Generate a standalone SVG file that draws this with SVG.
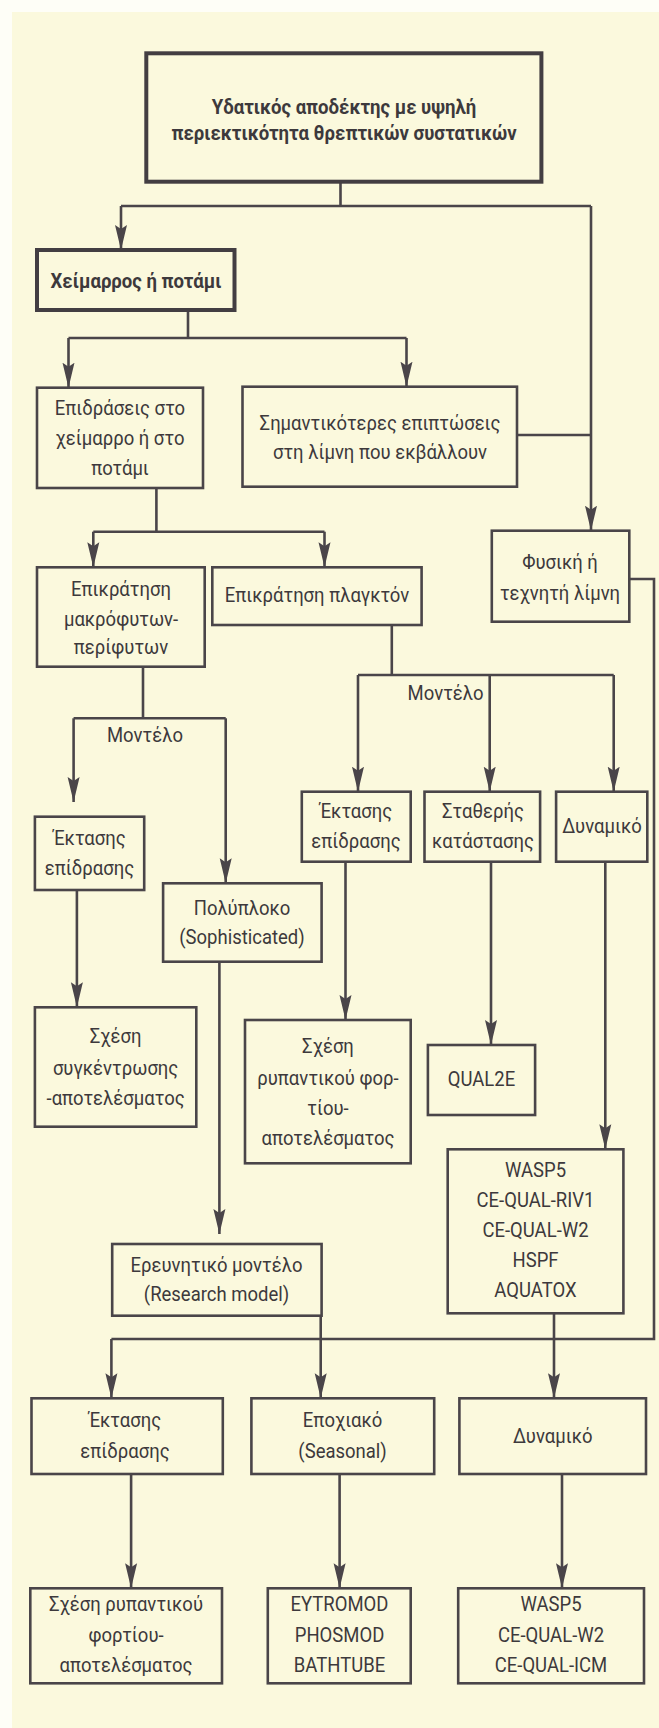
<svg xmlns="http://www.w3.org/2000/svg" width="659" height="1728" viewBox="0 0 659 1728">
  <style>
    .bx { fill: none; stroke: #4a4549; stroke-width: 2.6; }
    .bx-strong { fill: none; stroke: #433e42; stroke-width: 4; }
    .ln { fill: none; stroke: #4a4549; stroke-width: 2.6; }
    .arr { marker-end: url(#ah); }
    text { font-family: Roboto, "Liberation Sans", sans-serif; font-size: 20px; fill: #3d393c; text-anchor: middle;
           transform-box: fill-box; transform-origin: center; transform: scaleX(0.925); }
    text.b { font-weight: bold; font-size: 21px; transform: scaleX(0.885); }
  </style>
  <defs>
    <marker id="ah" markerUnits="userSpaceOnUse" markerWidth="26" markerHeight="14" viewBox="0 0 26 14" refX="25" refY="7" orient="auto">
      <path d="M0,1 L25,7 L0,13 L4,7 z" fill="#4a4549"/>
    </marker>
  </defs>

  <!-- page -->
  <rect x="0" y="0" width="659" height="1728" fill="#fefef7"/>
  <rect x="12" y="12" width="647" height="1716" fill="#fbf9dd"/>

  <!-- connectors -->
  <g id="connectors">
    <path class="ln" d="M340.5,181.7 V206 M121,206 H591"/>
    <path class="ln arr" d="M121,206 V250"/>
    <path class="ln arr" d="M591,206 V530.7"/>
    <path class="ln" d="M517,435 H591"/>
    <path class="ln" d="M188,310 V338 M68.5,338 H406.5"/>
    <path class="ln arr" d="M68.5,338 V387.7"/>
    <path class="ln arr" d="M406.5,338 V386.7"/>
    <path class="ln" d="M156.4,488 V531.7 M93.3,531.7 H324.5"/>
    <path class="ln arr" d="M93.3,531.7 V567.3"/>
    <path class="ln arr" d="M324.5,531.7 V567.3"/>
    <path class="ln" d="M143,666.7 V718.3 M73.6,718.3 H225.7"/>
    <path class="ln arr" d="M73.6,718.3 V802"/>
    <path class="ln arr" d="M225.7,718.3 V883.3"/>
    <path class="ln" d="M391.8,625 V675 M358,675 H613.7"/>
    <path class="ln arr" d="M358,675 V791.7"/>
    <path class="ln arr" d="M489.7,675 V791.7"/>
    <path class="ln arr" d="M613.7,675 V791.7"/>
    <path class="ln arr" d="M76.9,890 V1007.3"/>
    <path class="ln arr" d="M219.4,961.7 V1234"/>
    <path class="ln arr" d="M345.5,861.7 V1020"/>
    <path class="ln arr" d="M491,861.7 V1045"/>
    <path class="ln arr" d="M605.3,861.7 V1149.3"/>
    <path class="ln" d="M629.3,579 H654 V1339 H111.4"/>
    <path class="ln arr" d="M111.4,1339 V1398.3"/>
    <path class="ln arr" d="M320.7,1315.7 V1398.3"/>
    <path class="ln arr" d="M554,1313.3 V1398.3"/>
    <path class="ln arr" d="M131.1,1474 V1588.3"/>
    <path class="ln arr" d="M339.6,1474 V1588.3"/>
    <path class="ln arr" d="M562,1474 V1588.3"/>
  </g>

  <!-- edge labels -->
  <g id="labels">
    <text x="145" y="742">Μοντέλο</text>
    <text x="445.6" y="700">Μοντέλο</text>
  </g>

  <g id="n-receiver">
    <rect class="bx-strong" x="146.3" y="53.3" width="395.1" height="128.4"/>
    <text class="b" x="344" y="114">Υδατικός αποδέκτης με υψηλή</text>
    <text class="b" x="344" y="140">περιεκτικότητα θρεπτικών συστατικών</text>
  </g>
  <g id="n-river">
    <rect class="bx-strong" x="37" y="250" width="197.5" height="60"/>
    <text class="b" x="136" y="288">Χείμαρρος ή ποτάμι</text>
  </g>
  <g id="n-effects">
    <rect class="bx" x="37" y="387.7" width="166" height="100.3"/>
    <text x="120" y="415">Επιδράσεις στο</text>
    <text x="120" y="445">χείμαρρο ή στο</text>
    <text x="120" y="475">ποτάμι</text>
  </g>
  <g id="n-lake-impacts">
    <rect class="bx" x="242.5" y="386.7" width="274.5" height="100"/>
    <text x="380" y="430">Σημαντικότερες επιπτώσεις</text>
    <text x="380" y="459">στη λίμνη που εκβάλλουν</text>
  </g>
  <g id="n-lake">
    <rect class="bx" x="491.8" y="530.7" width="137.5" height="91"/>
    <text x="560" y="569">Φυσική ή</text>
    <text x="560" y="600">τεχνητή λίμνη</text>
  </g>
  <g id="n-macrophytes">
    <rect class="bx" x="37" y="567.3" width="167.7" height="99.4"/>
    <text x="121" y="596">Επικράτηση</text>
    <text x="121" y="626.5">μακρόφυτων-</text>
    <text x="121" y="654.5">περίφυτων</text>
  </g>
  <g id="n-plankton">
    <rect class="bx" x="212.3" y="567.3" width="209.3" height="57.7"/>
    <text x="317" y="602">Επικράτηση πλαγκτόν</text>
  </g>
  <g id="n-extent-a">
    <rect class="bx" x="34.9" y="816.7" width="109.3" height="73.3"/>
    <text x="89.5" y="845">Έκτασης</text>
    <text x="89.5" y="875">επίδρασης</text>
  </g>
  <g id="n-extent-b">
    <rect class="bx" x="301.8" y="791.7" width="108.9" height="70"/>
    <text x="356" y="818">Έκτασης</text>
    <text x="356" y="848">επίδρασης</text>
  </g>
  <g id="n-steady">
    <rect class="bx" x="424.5" y="791.7" width="115.6" height="70"/>
    <text x="483" y="818">Σταθερής</text>
    <text x="483" y="848">κατάστασης</text>
  </g>
  <g id="n-dynamic-a">
    <rect class="bx" x="556.1" y="791.7" width="91.2" height="70"/>
    <text x="602" y="833">Δυναμικό</text>
  </g>
  <g id="n-sophisticated">
    <rect class="bx" x="163.1" y="883.3" width="158.5" height="78.4"/>
    <text x="242" y="915">Πολύπλοκο</text>
    <text x="242" y="944">(Sophisticated)</text>
  </g>
  <g id="n-concentration">
    <rect class="bx" x="34.9" y="1007.3" width="161.4" height="119.4"/>
    <text x="115.6" y="1043">Σχέση</text>
    <text x="115.6" y="1075">συγκέντρωσης</text>
    <text x="115.6" y="1105">-αποτελέσματος</text>
  </g>
  <g id="n-loading-a">
    <rect class="bx" x="245" y="1020" width="165.7" height="143.3"/>
    <text x="328" y="1053">Σχέση</text>
    <text x="328" y="1085">ρυπαντικού φορ-</text>
    <text x="328" y="1115">τίου-</text>
    <text x="328" y="1145">αποτελέσματος</text>
  </g>
  <g id="n-qual2e">
    <rect class="bx" x="427.9" y="1045" width="107.2" height="70"/>
    <text x="481.5" y="1086">QUAL2E</text>
  </g>
  <g id="n-models-a">
    <rect class="bx" x="447.7" y="1149.3" width="175.7" height="164"/>
    <text x="535.5" y="1177">WASP5</text>
    <text x="535.5" y="1207">CE-QUAL-RIV1</text>
    <text x="535.5" y="1237">CE-QUAL-W2</text>
    <text x="535.5" y="1267">HSPF</text>
    <text x="535.5" y="1297.5">AQUATOX</text>
  </g>
  <g id="n-research">
    <rect class="bx" x="112.2" y="1244" width="209.4" height="71.7"/>
    <text x="216.5" y="1272">Ερευνητικό μοντέλο</text>
    <text x="216.5" y="1301">(Research model)</text>
  </g>
  <g id="n-extent-c">
    <rect class="bx" x="31.5" y="1398.3" width="191.3" height="75.7"/>
    <text x="125" y="1427">Έκτασης</text>
    <text x="125" y="1458.5">επίδρασης</text>
  </g>
  <g id="n-seasonal">
    <rect class="bx" x="251.4" y="1398.3" width="182.8" height="75.7"/>
    <text x="342.6" y="1427">Εποχιακό</text>
    <text x="342.6" y="1458.5">(Seasonal)</text>
  </g>
  <g id="n-dynamic-b">
    <rect class="bx" x="459.4" y="1398.3" width="186.6" height="75.7"/>
    <text x="552.7" y="1443.5">Δυναμικό</text>
  </g>
  <g id="n-loading-b">
    <rect class="bx" x="30.3" y="1588.3" width="191.7" height="95"/>
    <text x="126" y="1611">Σχέση ρυπαντικού</text>
    <text x="126" y="1642">φορτίου-</text>
    <text x="126" y="1672">αποτελέσματος</text>
  </g>
  <g id="n-models-b">
    <rect class="bx" x="267.8" y="1588.3" width="142.9" height="95"/>
    <text x="339.5" y="1611">EYTROMOD</text>
    <text x="339.5" y="1642">PHOSMOD</text>
    <text x="339.5" y="1672">BATHTUBE</text>
  </g>
  <g id="n-models-c">
    <rect class="bx" x="458.2" y="1588.3" width="185.8" height="95"/>
    <text x="551" y="1611">WASP5</text>
    <text x="551" y="1642">CE-QUAL-W2</text>
    <text x="551" y="1672">CE-QUAL-ICM</text>
  </g>
</svg>
